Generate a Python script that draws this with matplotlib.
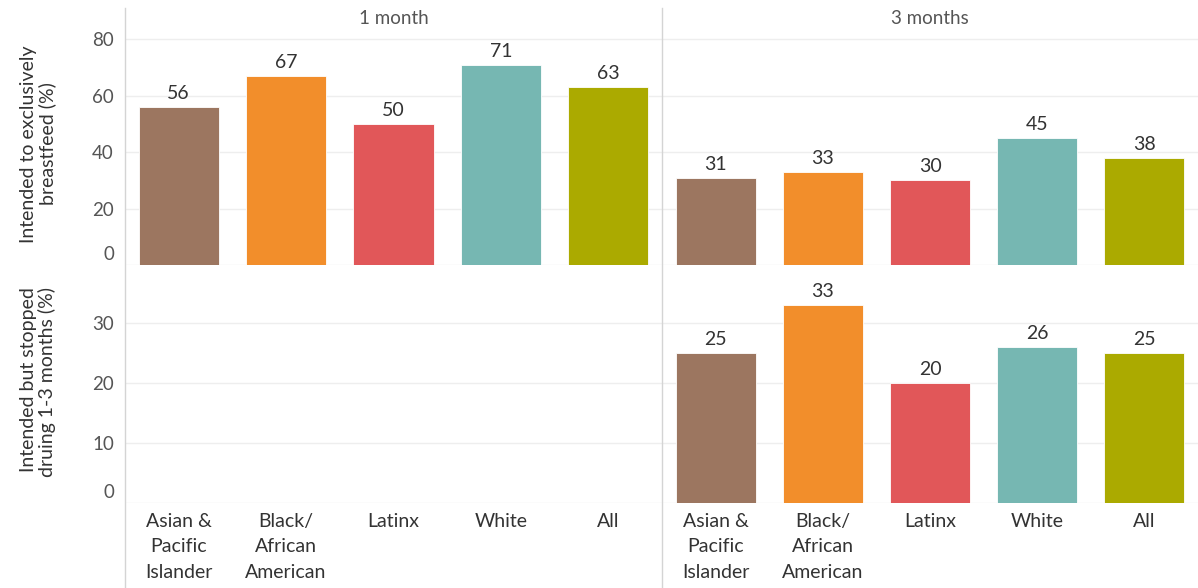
import matplotlib
matplotlib.use("Agg")
import matplotlib.pyplot as plt
import matplotlib.transforms as mtransforms
from matplotlib.lines import Line2D

categories = ["Asian &\nPacific\nIslander", "Black/\nAfrican\nAmerican", "Latinx", "White", "All"]
columns = ["1 month", "3 months"]
intended_1m = [56, 67, 50, 71, 63]
intended_3m = [31, 33, 30, 45, 38]
stopped_1m = [None, None, None, None, None]
stopped_3m = [25, 33, 20, 26, 25]
row_titles = ["Intended to exclusively\nbreastfeed (%)", "Intended but stopped\ndruing 1-3 months (%)"]
top_ticks = [0, 20, 40, 60, 80]
bottom_ticks = [0, 10, 20, 30]
colors = ["#9C7660", "#F28E2B", "#E15759", "#76B7B2", "#ABAA00"]

plt.rcParams['font.family'] = ['Lato', 'DejaVu Sans']

W, H = 1198, 588
fig = plt.figure(figsize=(W / 100, H / 100), dpi=100)

def fx(px):
    return px / W

def fy(py):
    return 1 - py / H

col_x = [(125, 662), (662, 1198)]
row_y = [(28, 265), (270, 503)]
row_lim = [84.0, 38.8]
row_ticks = [top_ticks, bottom_ticks]
data = [[intended_1m, intended_3m], [stopped_1m, stopped_3m]]

for r in range(2):
    for c in range(2):
        x0, x1 = col_x[c]
        y0, y1 = row_y[r]
        ax = fig.add_axes([fx(x0), fy(y1), fx(x1 - x0), (y1 - y0) / H])
        ax.set_xlim(-0.5, 4.5)
        ax.set_ylim(0, row_lim[r])
        for s in ax.spines.values():
            s.set_visible(False)
        ax.set_yticks(row_ticks[r])
        ax.yaxis.grid(True, color="#eeeeee", linewidth=1)
        ax.set_axisbelow(True)
        ax.tick_params(axis='y', length=0, labelsize=13.5, labelcolor="#555555", pad=8)
        if c == 1:
            ax.set_yticklabels([])
        else:
            for lab in ax.get_yticklabels():
                if lab.get_text() == "0":
                    lab.set_transform(lab.get_transform() + mtransforms.ScaledTranslation(0, 9 / 72, fig.dpi_scale_trans))
        vals = data[r][c]
        xs = list(range(len(categories)))
        if all(v is not None for v in vals):
            ax.bar(xs, vals, width=0.745, color=colors, edgecolor="white", linewidth=0.6)
            for x, v in zip(xs, vals):
                ax.annotate(f"{v}", (x, v), xytext=(0, 3.5), textcoords="offset points",
                            ha="center", va="bottom", fontsize=14, color="#333333")
        ax.set_xticks(xs)
        if r == 1:
            ax.set_xticklabels(categories, fontsize=14, color="#333333", linespacing=1.6, va="top")
            ax.tick_params(axis='x', length=0, pad=7)
        else:
            ax.set_xticklabels([])
            ax.tick_params(axis='x', length=0)

# column headers
for c, name in enumerate(columns):
    x0, x1 = col_x[c]
    fig.text(fx((x0 + x1) / 2), fy(18), name, ha="center", va="center", fontsize=13.5, color="#555555")

# row titles
fig.text(fx(38), fy(144), row_titles[0], rotation=90, ha="center", va="center",
         fontsize=14, color="#333333", linespacing=1.1, multialignment="center")
fig.text(fx(38), fy(382), row_titles[1], rotation=90, ha="center", va="center",
         fontsize=14, color="#333333", linespacing=1.1, multialignment="right")

# dividers
for xp in (125, 662):
    fig.add_artist(Line2D([fx(xp), fx(xp)], [fy(8), 0], color="#d4d4d4", linewidth=1))

fig.savefig("out.png", dpi=100)
